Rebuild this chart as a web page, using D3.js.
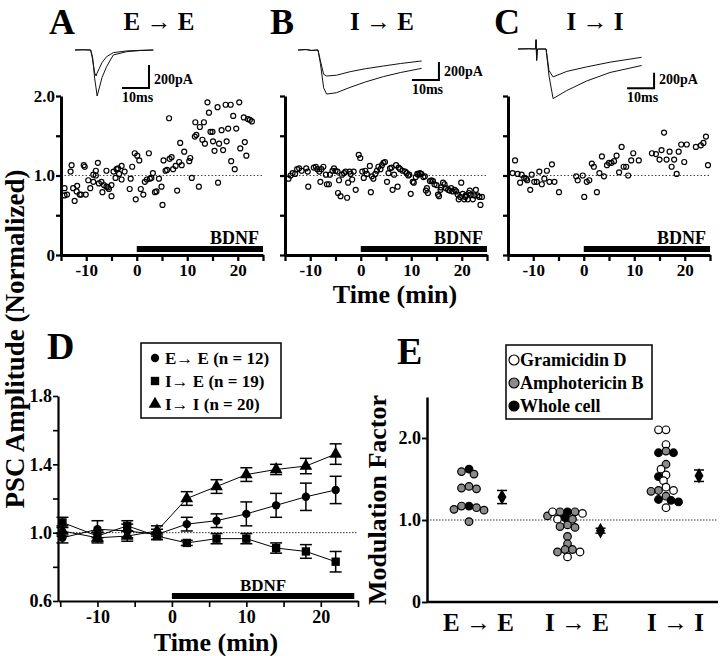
<!DOCTYPE html>
<html><head><meta charset="utf-8">
<script src="https://cdn.jsdelivr.net/npm/d3@7"></script>
<style>body{margin:0;background:#fff}svg{display:block}</style>
</head><body><svg id="c" width="720" height="656"></svg>
<script>
// ---------------- DATA ----------------
const minuteTickLabels = [-10, 0, 10, 20];
const bdnfPeriod = [0, 25];
// Panel A (E->E): [time (min), normalized amplitude]
const panelA_points = [[-14.3,0.84],[-13.8,0.76],[-14.3,0.75],[-13.1,1.05],[-12.9,1.13],[-12.3,0.68],[-12.6,0.84],[-11.9,0.80],[-11.8,0.87],[-11.3,0.76],[-11.0,0.76],[-10.5,1.13],[-10.3,1.11],[-10.1,0.76],[-9.6,0.94],[-9.2,0.84],[-8.6,0.92],[-8.6,1.01],[-8.1,1.06],[-8.1,1.00],[-7.7,1.16],[-7.5,0.90],[-7.0,0.92],[-6.8,0.79],[-6.5,0.88],[-6.0,1.06],[-6.0,0.86],[-5.7,0.85],[-5.5,0.83],[-5.0,0.74],[-5.0,0.88],[-4.6,1.05],[-4.2,0.97],[-4.0,1.08],[-3.7,1.09],[-3.5,1.02],[-3.0,1.12],[-3.0,0.95],[-2.4,1.05],[-1.4,0.83],[-1.2,0.96],[-0.9,1.11],[-0.4,1.28],[-0.2,0.70],[0.1,1.25],[0.5,1.19],[0.8,0.83],[1.3,0.76],[1.6,0.92],[2.0,0.95],[2.4,1.28],[2.6,0.96],[2.9,0.97],[3.2,1.03],[3.6,0.79],[3.9,0.80],[4.4,0.96],[4.9,0.86],[5.1,0.63],[5.3,1.19],[5.7,1.06],[6.0,1.07],[6.4,1.72],[6.5,1.21],[6.9,1.23],[7.2,1.08],[7.7,1.12],[8.0,0.81],[8.4,1.17],[8.6,1.41],[8.9,1.13],[9.4,1.30],[10.4,1.18],[10.6,1.22],[10.9,0.97],[11.5,1.49],[11.6,1.67],[11.8,1.51],[12.3,0.86],[12.5,1.61],[13.0,1.45],[13.3,1.67],[13.5,1.40],[14.0,1.92],[14.3,1.79],[14.6,1.55],[15.0,1.55],[15.1,1.43],[15.4,1.31],[16.0,1.86],[16.1,0.91],[16.3,1.40],[16.8,1.57],[17.1,1.32],[17.6,1.89],[17.8,1.43],[18.1,1.59],[18.6,1.89],[18.7,1.18],[19.1,1.75],[19.4,1.08],[19.7,1.59],[20.3,1.92],[20.5,1.34],[21.2,1.73],[21.4,1.42],[21.7,1.25],[22.0,1.71],[22.4,1.70],[22.8,1.68]];
// Panel B (I->E)
const panelB_points = [[-14.3,0.96],[-13.9,1.00],[-13.5,1.03],[-13.0,1.02],[-12.6,1.08],[-12.2,1.09],[-11.7,1.06],[-10.8,1.09],[-10.5,1.05],[-10.4,0.86],[-9.3,1.10],[-8.9,1.11],[-8.6,1.08],[-8.2,1.05],[-8.0,0.92],[-7.8,1.08],[-7.4,1.11],[-6.9,1.01],[-6.7,0.89],[-6.3,0.89],[-6.1,1.01],[-5.6,1.06],[-5.3,1.09],[-5.0,1.06],[-4.6,1.05],[-4.3,0.94],[-4.5,0.78],[-4.0,0.74],[-3.7,1.01],[-3.3,1.03],[-3.0,1.05],[-2.7,0.72],[-2.5,0.91],[-2.2,1.05],[-2.0,1.02],[-1.7,0.95],[-1.4,1.05],[-1.0,0.82],[-0.4,1.26],[-0.1,1.22],[0.3,1.05],[0.6,0.97],[0.9,1.06],[1.2,1.02],[1.8,1.12],[2.0,0.79],[2.2,0.99],[2.5,0.96],[2.9,1.02],[3.2,1.06],[3.5,1.11],[3.9,1.08],[4.2,1.13],[4.5,1.16],[4.8,1.17],[5.2,0.92],[5.5,1.03],[5.8,1.09],[6.1,1.10],[6.3,0.82],[6.6,1.01],[7.0,1.13],[7.3,0.86],[7.5,1.10],[7.8,1.08],[8.3,1.06],[8.8,1.05],[9.1,1.03],[9.4,1.00],[9.6,1.01],[9.9,0.77],[10.3,0.92],[10.5,0.91],[10.9,0.98],[11.2,1.02],[11.4,1.01],[11.7,1.03],[12.0,1.02],[12.4,0.98],[12.7,0.99],[12.9,0.81],[13.1,0.84],[13.3,0.78],[13.7,0.93],[14.0,0.94],[14.3,0.93],[14.6,0.89],[15.0,0.88],[15.3,0.76],[15.5,0.74],[15.8,0.82],[15.9,0.85],[16.3,0.91],[16.6,0.89],[16.9,0.84],[17.3,0.82],[17.6,0.81],[17.9,0.84],[18.2,0.80],[18.6,0.82],[18.9,0.80],[19.2,0.76],[19.4,0.70],[19.7,0.73],[19.9,0.91],[20.2,0.77],[20.5,0.70],[20.7,0.73],[20.8,0.75],[21.2,0.70],[21.4,0.78],[21.6,0.81],[21.8,0.76],[22.2,0.70],[22.5,0.75],[22.8,0.82],[23.1,0.75],[23.5,0.73],[23.7,0.63],[24.0,0.73]];
// Panel C (I->I)
const panelC_points = [[-14.1,1.03],[-13.6,1.19],[-13.1,1.02],[-12.6,0.91],[-12.3,1.01],[-11.8,0.97],[-11.4,0.96],[-11.2,0.94],[-10.6,0.82],[-10.3,1.01],[-9.8,0.92],[-9.3,0.92],[-8.8,1.05],[-8.3,0.89],[-7.8,0.96],[-7.3,1.06],[-6.8,0.92],[-6.3,1.14],[-5.8,0.92],[-4.9,0.79],[-1.5,0.99],[-1.2,0.94],[-0.2,1.00],[0.1,0.73],[0.6,0.92],[1.1,0.94],[1.6,1.15],[2.0,1.11],[2.6,0.79],[3.1,1.03],[3.6,1.24],[4.0,0.99],[4.6,1.13],[5.0,1.16],[5.5,1.16],[6.0,1.18],[6.5,1.25],[7.0,1.04],[7.5,1.36],[7.9,1.11],[8.4,1.11],[8.8,1.00],[9.4,1.19],[9.8,1.28],[10.9,1.19],[13.5,1.28],[14.3,1.27],[15.0,1.20],[15.4,1.32],[15.9,1.54],[16.4,1.20],[17.0,1.30],[17.4,1.11],[17.9,1.20],[18.4,1.02],[18.8,1.30],[19.3,1.39],[19.9,1.17],[20.4,1.39],[22.2,1.36],[23.2,1.38],[23.7,1.41],[24.2,1.49],[24.6,1.13]];

// Example traces (ms, pA): two superimposed PSCs per panel (before / after BDNF)
const traceA_ms    = [0, 3, 5.8, 6.5, 7.3, 7.8, 8.2, 9, 10, 11.7, 14.2, 19.2, 24, 29];
const traceA_big   = [0, 2, 0, -60, -250, -330, -400, -330, -240, -145, -43, -14, -5, 0];
const traceA_small = [0, 2, 0, -80, -200, -226, -200, -160, -110, -58, -23, -8, -3, 0];
const traceB_ms    = [0, 3, 5, 7.4, 8.3, 9.5, 10.6, 14.3, 19.3, 25, 31.6, 38, 45.8];
const traceB_big   = [0, 5, -5, 0, -150, -420, -490, -474, -415, -355, -296, -250, -204];
const traceB_small = [0, 5, -5, 0, -120, -270, -289, -280, -241, -208, -178, -150, -122];
const traceC_ms    = [0, 4, 6.5, 6.7, 6.9, 7.2, 7.5, 10.4, 11.5, 13, 18, 25.4, 34.1, 45.8];
const traceC_big   = [0, 3, 0, 120, -147, 0, 0, 0, -350, -640, -537, -413, -303, -213];
const traceC_small = [0, 3, 0, 120, -147, 0, 0, 0, -280, -360, -290, -231, -170, -107];
const scaleBarLabels = ["200pA", "10ms"];

// Panel D: binned averages
const binTimes = [-14.7, -10, -6, -2, 2, 6, 10, 14, 18, 22];
const meanEE = [0.97, 1.02, 1.01, 0.99, 1.05, 1.07, 1.11, 1.16, 1.21, 1.25];
const semEE  = [0.03, 0.05, 0.04, 0.03, 0.04, 0.04, 0.07, 0.07, 0.08, 0.08];
const meanIE = [1.06, 0.98, 1.04, 0.98, 0.94, 0.965, 0.965, 0.91, 0.89, 0.83];
const semIE  = [0.03, 0.03, 0.03, 0.02, 0.015, 0.03, 0.03, 0.03, 0.04, 0.06];
const meanII = [1.01, 0.97, 0.98, 1.01, 1.20, 1.27, 1.34, 1.37, 1.39, 1.46];
const semII  = [0.03, 0.03, 0.03, 0.03, 0.04, 0.04, 0.04, 0.03, 0.045, 0.06];
const legendD = ["E\u2192 E (n = 12)", "I\u2192 E (n = 19)", "I\u2192 I (n = 20)"];
const bdnfPeriodD = [0, 24.5];

// Panel E: modulation factors, recording type G=gramicidin, A=amphotericin, W=whole cell
const categoriesE = ["E \u2192 E", "I \u2192 E", "I \u2192 I"];
const modEE = [1.62, 1.56, 1.59, 1.39, 1.38, 1.41, 1.17, 1.13, 1.17, 1.15, 1.12, 0.98];
const typeEE = ["W","A","A","A","A","A","W","A","A","A","A","A"];
const modIE = [1.03, 1.10, 1.05, 1.10, 1.10, 1.10, 1.08, 0.94, 1.01, 1.01, 0.91, 0.92, 0.80, 0.71, 0.61, 0.64, 0.64, 0.61, 0.55];
const typeIE = ["W","W","A","A","A","G","G","A","A","G","A","A","A","A","A","A","A","G","G"];
const modII = [2.10, 2.10, 1.92, 1.82, 1.82, 1.84, 1.68, 1.62, 1.55, 1.53, 1.48, 1.40, 1.36, 1.35, 1.36, 1.29, 1.24, 1.25, 1.22, 1.15];
const typeII = ["G","G","G","W","W","A","A","G","G","W","G","G","A","A","G","A","W","W","W","G"];
const meanMod = [1.28, 0.87, 1.54];
const semMod  = [0.08, 0.03, 0.07];
const legendE = [["G","Gramicidin D"],["A","Amphotericin B"],["W","Whole cell"]];

// ---------------- DRAW ----------------
const FONT = "'Liberation Serif','Times New Roman',Times,serif";
const svg = d3.select("#c");
const fillFor = {G: "#fff", A: "#8a8a8a", W: "#000"};

function text(x, y, s, size, anchor, rot) {
  const t = svg.append("text").attr("x", x).attr("y", y).text(s)
    .attr("font-family", FONT).attr("font-weight", "bold").attr("font-size", size)
    .attr("text-anchor", anchor || "start").attr("fill", "#000");
  if (rot) t.attr("transform", `rotate(${rot},${x},${y})`);
  return t;
}
function styleAxis(g, size, w) {
  g.attr("font-family", null).attr("font-size", null);
  g.selectAll("text").attr("font-family", FONT).attr("font-weight", "bold")
    .attr("font-size", size).attr("fill", "#000");
  g.select(".domain").attr("stroke-width", w).attr("stroke", "#000");
  g.selectAll(".tick line").attr("stroke-width", Math.max(1.5, w * 0.75)).attr("stroke", "#000");
}

// ---- top panels A, B, C ----
const topPanels = [
  {left: 61,  pts: panelA_points, yLab: true, letter: "A", lx: 49, title: "E \u2192 E", tx: 159,
   tr: {ms: traceA_ms, big: traceA_big, small: traceA_small, x0: 75, y0: 50, pxV: 23, bar: [17.4, -330]}},
  {left: 285, pts: panelB_points, yLab: false, letter: "B", lx: 270, title: "I \u2192 E", tx: 382,
   tr: {ms: traceB_ms, big: traceB_big, small: traceB_small, x0: 298, y0: 50, pxV: 18, bar: [42.2, -333]}},
  {left: 508, pts: panelC_points, yLab: false, letter: "C", lx: 494, title: "I \u2192 I", tx: 595,
   tr: {ms: traceC_ms, big: traceC_big, small: traceC_small, x0: 518, y0: 49, pxV: 15.5, bar: [40.4, -507]}}
];

topPanels.forEach(p => {
  const x = d3.scaleLinear().domain([-15, 25]).range([p.left, p.left + 202]);
  const y = d3.scaleLinear().domain([0, 2]).range([255, 96]);
  svg.append("line").attr("x1", x(-15)).attr("x2", x(25)).attr("y1", y(1)).attr("y2", y(1))
    .attr("stroke", "#444").attr("stroke-width", 1).attr("stroke-dasharray", "1.5,2");
  svg.append("rect").attr("x", x(bdnfPeriod[0])).attr("width", x(bdnfPeriod[1]) - x(bdnfPeriod[0]))
    .attr("y", y(0) - 9).attr("height", 6).attr("fill", "#000");
  text(x(bdnfPeriod[1]) - 4, y(0) - 11, "BDNF", 18, "end");
  svg.append("g").selectAll("circle").data(p.pts).join("circle")
    .attr("cx", d => x(d[0])).attr("cy", d => y(d[1])).attr("r", 2.5)
    .attr("fill", "none").attr("stroke", "#000").attr("stroke-width", 1.2);
  const gx = svg.append("g").attr("transform", `translate(0,${y(0)})`)
    .call(d3.axisBottom(x).tickValues(d3.range(-15, 26, 5)).tickSize(6).tickSizeOuter(0).tickPadding(3)
      .tickFormat(d => minuteTickLabels.includes(d) ? String(d) : ""));
  styleAxis(gx, 17, 3);
  const gy = svg.append("g").attr("transform", `translate(${x(-15)},0)`)
    .call(d3.axisLeft(y).tickValues([0, 0.5, 1, 1.5, 2]).tickSize(5).tickSizeOuter(0).tickPadding(1)
      .tickFormat(d => !p.yLab ? "" : (d === 0 ? "0" : (d === 1 || d === 2) ? d.toFixed(1) : "")));
  styleAxis(gy, 17, 3);
  text(p.lx, 34, p.letter, 36);
  text(p.tx, 30, p.title, 25, "middle");
  const T = p.tr;
  const xs = d3.scaleLinear().domain([0, 10]).range([T.x0, T.x0 + 27]);
  const ys = d3.scaleLinear().domain([0, -200]).range([T.y0, T.y0 + T.pxV]);
  const line = d3.line().x(d => xs(d[0])).y(d => ys(d[1]));
  [T.big, T.small].forEach(arr => {
    svg.append("path").attr("d", line(T.ms.map((m, i) => [m, arr[i]])))
      .attr("fill", "none").attr("stroke", "#111").attr("stroke-width", 1);
  });
  const [bt, bp] = T.bar;
  svg.append("path").attr("d", line([[bt, bp], [bt + 10, bp], [bt + 10, bp + 200]]))
    .attr("fill", "none").attr("stroke", "#000").attr("stroke-width", 2);
  text(xs(bt + 10) + 5, ys(bp) - 4, scaleBarLabels[0], 14);
  text(xs(bt), ys(bp) + 14, scaleBarLabels[1], 14);
});

text(24, 339, "PSC Amplitude (Normalized)", 27, "middle", -90);
text(395, 303, "Time (min)", 26, "middle");

// ---- panel D ----
(function () {
  const x = d3.scaleLinear().domain([-15.3, 25]).range([58, 358]);
  const y = d3.scaleLinear().domain([0.6, 1.8]).range([601, 396]);
  svg.append("line").attr("x1", x(-15.3)).attr("x2", x(25)).attr("y1", y(1)).attr("y2", y(1))
    .attr("stroke", "#333").attr("stroke-width", 1).attr("stroke-dasharray", "1.5,1.5");
  svg.append("rect").attr("x", x(bdnfPeriodD[0])).attr("width", x(bdnfPeriodD[1]) - x(bdnfPeriodD[0]))
    .attr("y", y(0.6) - 8).attr("height", 6).attr("fill", "#000");
  text((x(bdnfPeriodD[0]) + x(bdnfPeriodD[1])) / 2, y(0.6) - 10, "BDNF", 17, "middle");

  const series = [
    {m: meanEE, s: semEE, sym: d3.symbolCircle, size: 55},
    {m: meanIE, s: semIE, sym: d3.symbolSquare, size: 70},
    {m: meanII, s: semII, sym: d3.symbolTriangle, size: 70}
  ];
  const line = d3.line().x(d => x(d[0])).y(d => y(d[1]));
  series.forEach(S => {
    const pts = binTimes.map((t, i) => [t, S.m[i], S.s[i]]);
    svg.append("path").attr("d", line(pts)).attr("fill", "none").attr("stroke", "#000").attr("stroke-width", 1);
    const g = svg.append("g");
    pts.forEach(d => {
      g.append("line").attr("x1", x(d[0])).attr("x2", x(d[0])).attr("y1", y(d[1] - d[2])).attr("y2", y(d[1] + d[2]))
        .attr("stroke", "#000").attr("stroke-width", 1.5);
      [d[1] - d[2], d[1] + d[2]].forEach(v => g.append("line").attr("x1", x(d[0]) - 6).attr("x2", x(d[0]) + 6)
        .attr("y1", y(v)).attr("y2", y(v)).attr("stroke", "#000").attr("stroke-width", 1.5));
      g.append("path").attr("d", d3.symbol(S.sym, S.size)()).attr("transform", `translate(${x(d[0])},${y(d[1])})`)
        .attr("fill", "#000");
    });
  });
  const gx = svg.append("g").attr("transform", `translate(0,${y(0.6)})`)
    .call(d3.axisBottom(x).tickValues(d3.range(-15, 26, 5)).tickSize(6).tickSizeOuter(0).tickPadding(3)
      .tickFormat(d => minuteTickLabels.includes(d) ? String(d) : ""));
  styleAxis(gx, 18, 2.2);
  const gy = svg.append("g").attr("transform", `translate(${x(-15.3)},0)`)
    .call(d3.axisLeft(y).tickValues([0.6, 0.8, 1.0, 1.2, 1.4, 1.6, 1.8]).tickSize(5).tickSizeOuter(0).tickPadding(1)
      .tickFormat(d => [0.6, 1.0, 1.4, 1.8].some(v => Math.abs(v - d) < 1e-6) ? d.toFixed(1) : ""));
  styleAxis(gy, 18, 2.2);
  text(47, 359, "D", 38);
  text(216, 651, "Time (min)", 26, "middle");
  svg.append("rect").attr("x", 141).attr("y", 343).attr("width", 140).attr("height", 75)
    .attr("fill", "#fff").attr("stroke", "#000").attr("stroke-width", 1.5);
  legendD.forEach((lab, i) => {
    const cy = 358 + i * 23;
    svg.append("path").attr("d", d3.symbol(series[i].sym, series[i].size)())
      .attr("transform", `translate(155,${cy})`).attr("fill", "#000");
    text(165, cy + 6, lab, 17);
  });
})();

// ---- panel E ----
(function () {
  const y = d3.scaleLinear().domain([0, 2.5]).range([602, 397]);
  const xc = d3.scalePoint().domain(categoriesE).range([478, 675]);
  svg.append("line").attr("x1", 427).attr("x2", 718).attr("y1", y(1)).attr("y2", y(1))
    .attr("stroke", "#333").attr("stroke-width", 1).attr("stroke-dasharray", "1.5,1.5");
  const groups = [[modEE, typeEE], [modIE, typeIE], [modII, typeII]];
  const r = 3.8;
  groups.forEach(([vals, types], gi) => {
    const cx = xc(categoriesE[gi]) - 9;
    const order = d3.range(vals.length).sort((a, b) => vals[b] - vals[a]);
    const placed = [];
    const pos = [];
    order.forEach(i => {
      const py = y(vals[i]);
      for (let k = 0; k < 60; k++) {
        const off = (k % 2 ? -1 : 1) * Math.ceil(k / 2) * 2.5;
        const px = cx + off;
        if (placed.every(q => Math.hypot(q[0] - px, q[1] - py) >= 6.2)) { placed.push([px, py]); pos[i] = [px, py]; break; }
      }
    });
    svg.append("g").selectAll("circle").data(d3.range(vals.length)).join("circle")
      .attr("cx", i => pos[i][0]).attr("cy", i => pos[i][1]).attr("r", r)
      .attr("fill", i => fillFor[types[i]]).attr("stroke", "#000").attr("stroke-width", 1.2);
    const mx = xc(categoriesE[gi]) + 24;
    const m = meanMod[gi], s = semMod[gi];
    svg.append("line").attr("x1", mx).attr("x2", mx).attr("y1", y(m - s)).attr("y2", y(m + s)).attr("stroke", "#000").attr("stroke-width", 1.5);
    [m - s, m + s].forEach(v => svg.append("line").attr("x1", mx - 5).attr("x2", mx + 5).attr("y1", y(v)).attr("y2", y(v))
      .attr("stroke", "#000").attr("stroke-width", 1.5));
    svg.append("path").attr("d", d3.symbol(d3.symbolDiamond, 70)()).attr("transform", `translate(${mx},${y(m)})`).attr("fill", "#000");
  });
  const gy = svg.append("g").attr("transform", "translate(427,0)")
    .call(d3.axisLeft(y).tickValues([0, 1, 2]).tickSize(5).tickSizeOuter(0).tickPadding(1)
      .tickFormat(d => d === 0 ? "0" : d.toFixed(1)));
  styleAxis(gy, 18, 2.5);
  svg.append("line").attr("x1", 427).attr("x2", 718).attr("y1", y(0)).attr("y2", y(0)).attr("stroke", "#000").attr("stroke-width", 2.5);
  const gx = svg.append("g").attr("transform", `translate(0,${y(0)})`)
    .call(d3.axisBottom(xc).tickSize(0).tickPadding(11));
  gx.select(".domain").remove();
  gx.attr("font-family", null).attr("font-size", null);
  gx.selectAll("text").attr("font-family", FONT).attr("font-weight", "bold").attr("font-size", 25).attr("fill", "#000");
  text(386, 500, "Modulation Factor", 26, "middle", -90);
  text(397, 364, "E", 38);
  svg.append("rect").attr("x", 506).attr("y", 345).attr("width", 146).attr("height", 74)
    .attr("fill", "#fff").attr("stroke", "#000").attr("stroke-width", 1.5);
  legendE.forEach(([k, lab], i) => {
    const cy = 360 + i * 23;
    svg.append("circle").attr("cx", 514).attr("cy", cy).attr("r", 5).attr("fill", fillFor[k]).attr("stroke", "#000").attr("stroke-width", 1.2);
    text(520, cy + 6, lab, 18);
  });
})();
</script></body></html>
